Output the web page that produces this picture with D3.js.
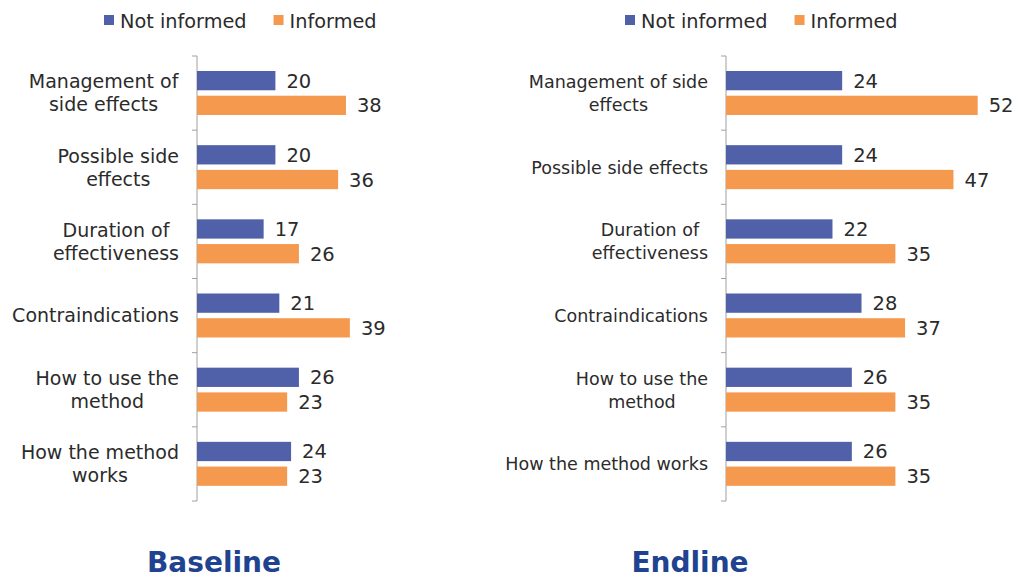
<!DOCTYPE html>
<html>
<head>
<meta charset="utf-8">
<script src="https://cdn.jsdelivr.net/npm/d3@7"></script>
<style>
  body { margin: 0; background: #fff; }
  text { font-family: "DejaVu Sans", Verdana, sans-serif; fill: #2b2b2b; }
</style>
</head>
<body>
<svg id="chart" width="1014" height="575"></svg>
<script>
var categories = ["Management of side effects", "Possible side effects", "Duration of effectiveness",
  "Contraindications", "How to use the method", "How the method works"]
var seriesNames = ["Not informed", "Informed"]
var baselineNot = [20, 20, 17, 21, 26, 24]
var baselineInf = [38, 36, 26, 39, 23, 23]
var endlineNot = [24, 24, 22, 28, 26, 26]
var endlineInf = [52, 47, 35, 37, 35, 35]
// how the labels wrap in each panel
var baselineLabels = [["Management of", "side effects"], ["Possible side", "effects"], ["Duration of", "effectiveness"],
  ["Contraindications"], ["How to use the", "method"], ["How the method", "works"]]
var endlineLabels = [["Management of side", "effects"], ["Possible side effects"], ["Duration of", "effectiveness"],
  ["Contraindications"], ["How to use the", "method"], ["How the method works"]]

var colors = ["#5060a9", "#f5994e"]
var svg = d3.select("#chart")

function panel(opt) {
  var g = svg.append("g")
  var x = d3.scaleLinear().domain([0, opt.max]).range([opt.x0, opt.x0 + opt.unit * opt.max])
  var y = d3.scaleBand().domain(categories).range([56, 501])
  var sub = d3.scaleBand().domain(seriesNames).range([15, 59]).paddingInner(0.22)

  // axis line + ticks at band edges
  g.append("line").attr("x1", opt.x0).attr("x2", opt.x0).attr("y1", 56).attr("y2", 501)
    .attr("stroke", "#a0a0a0")
  g.selectAll(".tk").data(d3.range(categories.length + 1)).enter().append("line")
    .attr("x1", opt.x0 - 5).attr("x2", opt.x0)
    .attr("y1", function(d){ return 56 + d * y.step() })
    .attr("y2", function(d){ return 56 + d * y.step() })
    .attr("stroke", "#a0a0a0")

  var sets = [opt.notInf, opt.inf]
  sets.forEach(function(vals, s){
    g.selectAll(".bar" + s).data(vals).enter().append("rect")
      .attr("x", x(0))
      .attr("y", function(d, i){ return y(categories[i]) + sub(seriesNames[s]) })
      .attr("width", function(d){ return x(d) - x(0) })
      .attr("height", sub.bandwidth())
      .attr("fill", colors[s])
    g.selectAll(".val" + s).data(vals).enter().append("text")
      .attr("x", function(d){ return x(d) + 11 })
      .attr("y", function(d, i){ return y(categories[i]) + sub(seriesNames[s]) + sub.bandwidth() / 2 })
      .attr("dy", "0.36em")
      .attr("font-size", "19.5px")
      .text(function(d){ return d })
  })

  // category labels, lines centred, block right-aligned
  opt.labels.forEach(function(lines, i){
    var cy = y(categories[i]) + y.bandwidth() / 2
    var t = g.append("text").attr("font-size", opt.labelSize).attr("text-anchor", "middle")
    lines.forEach(function(l, j){
      t.append("tspan").attr("x", 0).attr("y", cy + (j - (lines.length - 1) / 2) * 23).attr("dy", "0.36em").text(l)
    })
    var w = t.node().getBBox().width
    t.selectAll("tspan").attr("x", opt.labelRight - w / 2)
  })

  // legend
  var lg = g.append("g").attr("transform", "translate(" + opt.legendX + ",0)")
  var lx = 0
  seriesNames.forEach(function(n, i){
    lg.append("rect").attr("x", lx).attr("y", 15).attr("width", 10).attr("height", 10).attr("fill", colors[i])
    var tx = lg.append("text").attr("x", lx + 16).attr("y", 27.5).attr("font-size", "19.3px").text(n)
    lx += 16 + tx.node().getComputedTextLength() + 27
  })

  svg.append("text").attr("x", opt.titleX).attr("y", 572).attr("text-anchor", "middle")
    .attr("font-size", "28px").attr("font-weight", "bold").style("fill", "#1f4390")
    .text(opt.title)
}

panel({ x0: 197, unit: 3.92, max: 50, notInf: baselineNot, inf: baselineInf, labels: baselineLabels,
  labelRight: 179, labelSize: "19px", legendX: 104, titleX: 214, title: "Baseline" })
panel({ x0: 726, unit: 4.84, max: 55, notInf: endlineNot, inf: endlineInf, labels: endlineLabels,
  labelRight: 708, labelSize: "17.5px", legendX: 625, titleX: 690, title: "Endline" })
</script>
</body>
</html>
